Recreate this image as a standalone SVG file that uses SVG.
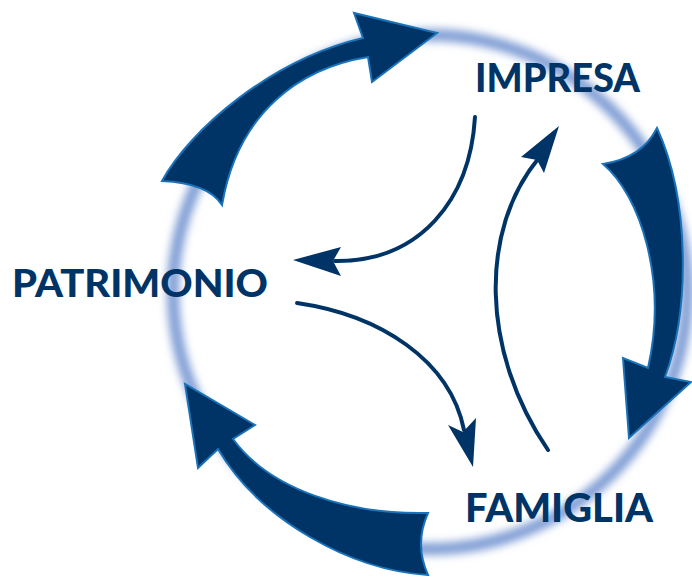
<svg xmlns="http://www.w3.org/2000/svg" width="692" height="579" viewBox="0 0 692 579">
<defs>
<filter id="blur" x="-20%" y="-20%" width="140%" height="140%">
<feGaussianBlur stdDeviation="4"/>
</filter>
<style>
.big{fill:#003466;stroke:#1a72b8;stroke-width:2;stroke-linejoin:miter}
.thin{fill:none;stroke:#003466;stroke-width:4;stroke-linecap:round}
.head{fill:#003466}
.lbl{font-family:Lato,"Open Sans","Liberation Sans",sans-serif;font-weight:900;fill:#003466}
</style>
</defs>
<rect width="692" height="579" fill="#ffffff"/>
<circle cx="430" cy="292" r="257" fill="none" stroke="#7d9bd4" stroke-width="12" filter="url(#blur)"/>
<g id="connectors">
<path class="big" d="M162,181 C190,130 270,60 363,38 L354,13 L437,33 L372,82 L368,57 C300,68 238,112 222,205 Q208,183 162,181 Z"/>
<path class="big" d="M603,164 C640,195 668,280 648,368 L623,358 L629,438 L691,382 L665,377 C690,310 690,200 657,128 Q642,158 603,164 Z"/>
<path class="big" d="M428,575 C350,570 260,520 218,449 L198,468 L185,384 L255,425 L233,439 C270,490 350,515 428,513 Q414,544 428,575 Z"/>
<path class="thin" d="M475,117 C470,200 420,262 335,261"/>
<path class="head" d="M293,260 L341,247 L333,261 L341,276 Z"/>
<path class="thin" d="M297,303 C380,315 450,360 464,430"/>
<path class="head" d="M473,467 L448,425 L463,432 L476,418 Z"/>
<path class="thin" d="M548,450 C480,350 480,230 538,159"/>
<path class="head" d="M559,126 L521,157 L537,160 L544,173 Z"/>
</g>
<g id="impresa"><text class="lbl" x="475" y="92" font-size="40" textLength="165" lengthAdjust="spacingAndGlyphs">IMPRESA</text></g>
<g id="patrimonio"><text class="lbl" x="12" y="297" font-size="37.5" textLength="256" lengthAdjust="spacingAndGlyphs">PATRIMONIO</text></g>
<g id="famiglia"><text class="lbl" x="465" y="522" font-size="40" textLength="188" lengthAdjust="spacingAndGlyphs">FAMIGLIA</text></g>
</svg>
